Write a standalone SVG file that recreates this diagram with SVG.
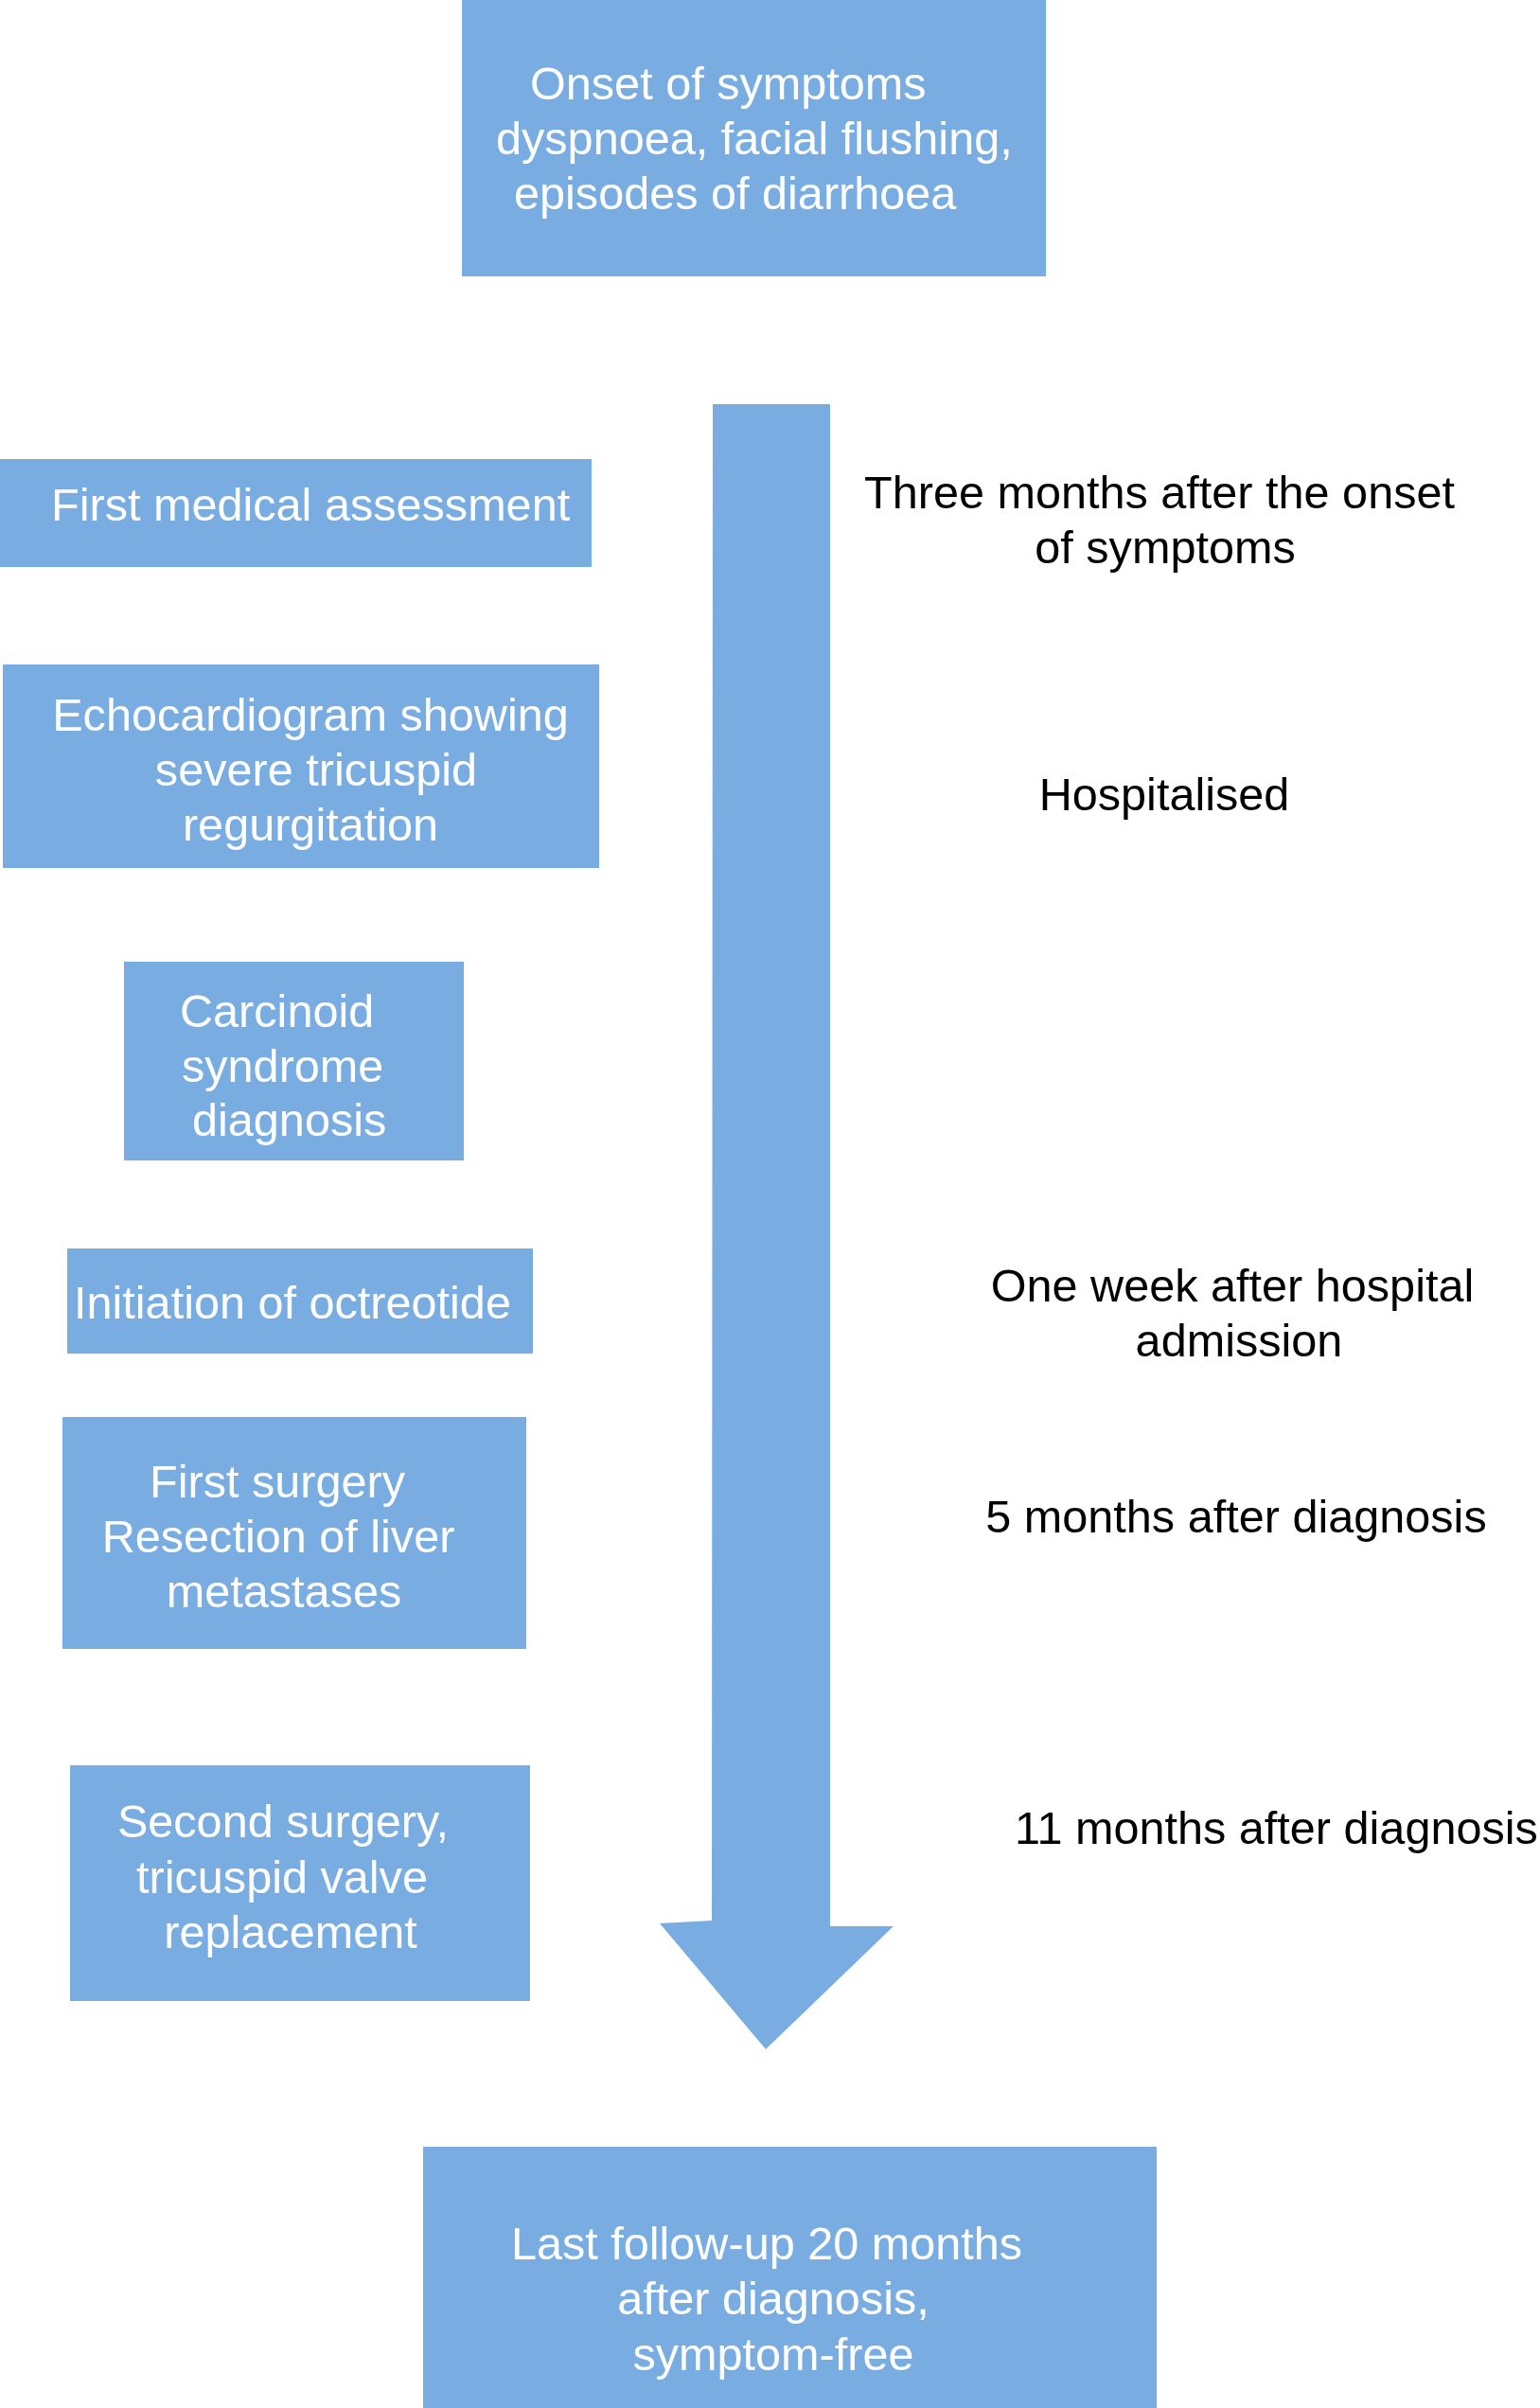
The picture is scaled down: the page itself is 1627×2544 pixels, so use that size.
<svg xmlns="http://www.w3.org/2000/svg" width="1627" height="2544" viewBox="0 0 1627 2544">
<style>
.box{fill:#79ADE2;}
.wt{fill:#ffffff;font-family:"Liberation Sans",Arial,Helvetica,sans-serif;font-size:48.6px;}
.bt{fill:#000000;font-family:"Liberation Sans",Arial,Helvetica,sans-serif;font-size:48.6px;}
.c{text-anchor:middle;}
</style>
<rect width="1627" height="2544" fill="#ffffff"/>
<g id="connectors">
<polygon class="box" points="753,427 877,427 877,2035 944,2035 809,2165 697,2032 752,2029"/>
</g>
<g id="node-onset">
<rect class="box" x="488" y="0" width="617" height="292"/>
<text class="wt" x="560" y="105">Onset of symptoms</text>
<text class="wt" x="524" y="163">dyspnoea, facial flushing,</text>
<text class="wt" x="543" y="221">episodes of diarrhoea</text>
</g>
<g id="node-first-assessment">
<rect class="box" x="0" y="485" width="625" height="114"/>
<text class="wt" x="54" y="550">First medical assessment</text>
</g>
<g id="node-echo">
<rect class="box" x="3" y="702" width="630" height="215"/>
<text class="wt c" x="328" y="772">Echocardiogram showing</text>
<text class="wt c" x="334" y="830">severe tricuspid</text>
<text class="wt c" x="328" y="888">regurgitation</text>
</g>
<g id="node-carcinoid">
<rect class="box" x="131" y="1016" width="359" height="210"/>
<text class="wt" x="190" y="1085">Carcinoid</text>
<text class="wt" x="192" y="1143">syndrome</text>
<text class="wt" x="203" y="1200">diagnosis</text>
</g>
<g id="node-octreotide">
<rect class="box" x="71" y="1319" width="492" height="111"/>
<text class="wt" x="78" y="1393">Initiation of octreotide</text>
</g>
<g id="node-first-surgery">
<rect class="box" x="66" y="1497" width="490" height="245"/>
<text class="wt c" x="293" y="1582">First surgery</text>
<text class="wt c" x="294" y="1640">Resection of liver</text>
<text class="wt c" x="300" y="1698">metastases</text>
</g>
<g id="node-second-surgery">
<rect class="box" x="74" y="1865" width="486" height="249"/>
<text class="wt c" x="299" y="1941">Second surgery,</text>
<text class="wt c" x="298" y="2000">tricuspid valve</text>
<text class="wt c" x="307" y="2058">replacement</text>
</g>
<g id="node-last-followup">
<rect class="box" x="447" y="2268" width="775" height="276"/>
<text class="wt c" x="810" y="2387">Last follow-up 20 months</text>
<text class="wt c" x="817" y="2445">after diagnosis,</text>
<text class="wt c" x="817" y="2504">symptom-free</text>
</g>
<g id="timeline-labels">
<text class="bt c" x="1225" y="537">Three months after the onset</text>
<text class="bt c" x="1231" y="595">of symptoms</text>
<text class="bt c" x="1230" y="856">Hospitalised</text>
<text class="bt c" x="1302" y="1375">One week after hospital</text>
<text class="bt c" x="1309" y="1433">admission</text>
<text class="bt c" x="1306" y="1619">5 months after diagnosis</text>
<text class="bt" x="1072" y="1948">11 months after diagnosis</text>
</g>
</svg>
